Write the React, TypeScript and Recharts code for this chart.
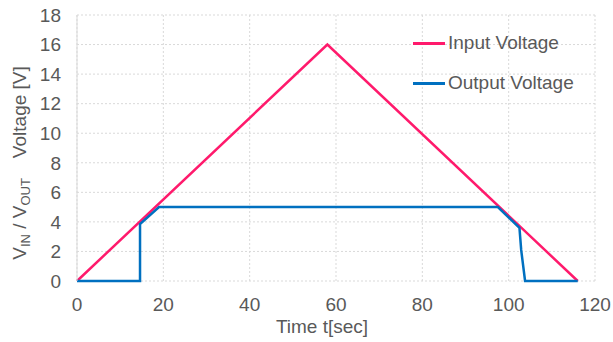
import React from 'react';
import {
  LineChart,
  Line,
  CartesianGrid,
  XAxis,
  YAxis,
} from 'recharts';

// input ramp: up to the peak and back down
const inputTime = [0, 58, 116];
const inputVoltage = [0, 16, 0];

// output: off, turns on, clamps at 5V, drops out on the way down
const outputTime = [0, 14.6, 14.6, 19.0, 97.5, 102.5, 102.9, 103.8, 116];
const outputVoltage = [0, 0, 3.85, 5.0, 5.0, 3.6, 2.1, 0, 0];

const xTicks = [0, 20, 40, 60, 80, 100, 120];
const yTicks = [0, 2, 4, 6, 8, 10, 12, 14, 16, 18];

const seriesNames = ['Input Voltage', 'Output Voltage'];
const seriesColors = ['#FF1A6C', '#0070C0'];

const inputData = inputTime.map((t, i) => ({ t, v: inputVoltage[i] }));
const outputData = outputTime.map((t, i) => ({ t, v: outputVoltage[i] }));

const FONT = '"Liberation Sans", Arial, sans-serif';
const FONT_SIZE = 19;
const TEXT_COLOR = '#595959';
const GRID_COLOR = '#d9d9d9';

const YTitle = () => (
  <text
    x={26}
    y={163}
    transform="rotate(-90 26 163)"
    textAnchor="middle"
    fontFamily={FONT}
    fontSize={FONT_SIZE}
    fill={TEXT_COLOR}
  >
    <tspan>V</tspan>
    <tspan fontSize={13} dy={4}>IN</tspan>
    <tspan dy={-4}> / V</tspan>
    <tspan fontSize={13} dy={4}>OUT</tspan>
    <tspan dy={-4} dx={20}>Voltage [V]</tspan>
  </text>
);

const XTitle = () => (
  <text
    x={322}
    y={333}
    textAnchor="middle"
    fontFamily={FONT}
    fontSize={FONT_SIZE}
    fill={TEXT_COLOR}
  >
    Time t[sec]
  </text>
);

// legend sits inside the plot, top right, with the grid showing through
const LegendBox = () => (
  <div
    style={{
      position: 'absolute',
      left: 413,
      top: 23,
      fontFamily: FONT,
      fontSize: FONT_SIZE,
      color: TEXT_COLOR,
    }}
  >
    {seriesNames.map((name, i) => (
      <div key={name} style={{ display: 'flex', alignItems: 'center', height: 40 }}>
        <span
          style={{
            display: 'inline-block',
            width: 32,
            height: 3,
            background: seriesColors[i],
            marginRight: 3,
          }}
        />
        <span>{name}</span>
      </div>
    ))}
  </div>
);

export default function App() {
  return (
    <div style={{ position: 'absolute', left: 0, top: 0, width: 613, height: 342, background: '#fff' }}>
      <LineChart
        width={613}
        height={342}
        margin={{ top: 15, right: 18, left: 0, bottom: 0 }}
      >
        <CartesianGrid stroke={GRID_COLOR} strokeDasharray="2 2" />
        <XAxis
          type="number"
          dataKey="t"
          domain={[0, 120]}
          ticks={xTicks}
          interval={0}
          height={61}
          tickLine={false}
          tickSize={0}
          tickMargin={17}
          axisLine={false}
          tick={{ fill: TEXT_COLOR, fontSize: FONT_SIZE, fontFamily: FONT }}
          label={<XTitle />}
          allowDuplicatedCategory={false}
        />
        <YAxis
          type="number"
          domain={[0, 18]}
          ticks={yTicks}
          interval={0}
          width={77}
          tickLine={false}
          tickSize={0}
          tickMargin={16}
          axisLine={{ stroke: GRID_COLOR }}
          tick={{ fill: TEXT_COLOR, fontSize: FONT_SIZE, fontFamily: FONT }}
          label={<YTitle />}
        />
        <Line
          data={inputData}
          dataKey="v"
          name={seriesNames[0]}
          type="linear"
          stroke={seriesColors[0]}
          strokeWidth={2.5}
          dot={false}
          isAnimationActive={false}
        />
        <Line
          data={outputData}
          dataKey="v"
          name={seriesNames[1]}
          type="linear"
          stroke={seriesColors[1]}
          strokeWidth={2.5}
          dot={false}
          isAnimationActive={false}
        />
      </LineChart>
      <LegendBox />
    </div>
  );
}
